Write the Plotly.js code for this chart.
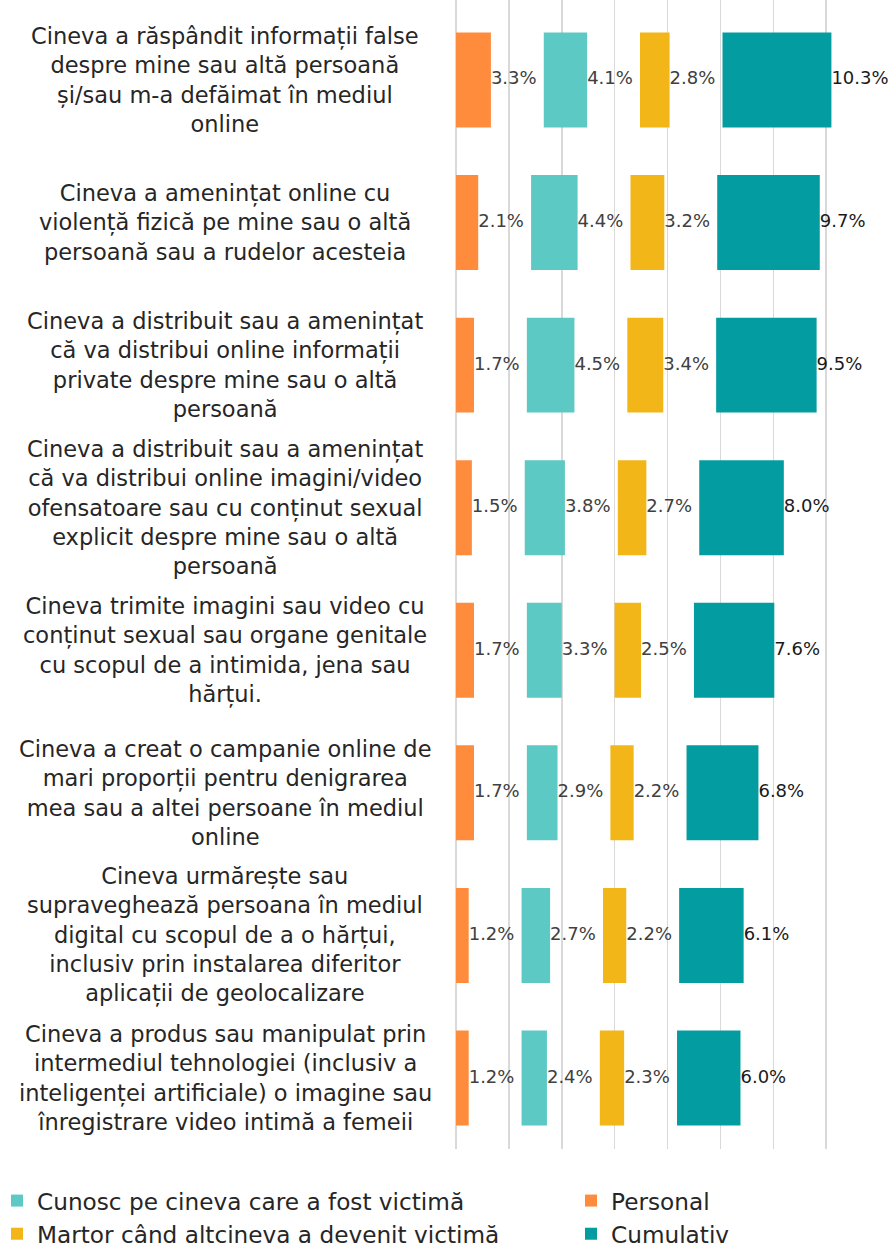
<!DOCTYPE html>
<html>
<head>
<meta charset="utf-8">
<script src="https://cdn.plot.ly/plotly-3.0.1.min.js"></script>
<style>html,body{margin:0;padding:0;background:#fff;}#chart{width:893px;height:1253px;}</style>
</head>
<body>
<div id="chart"></div>
<script>
const categories = [
  "Cineva a răspândit informații false<br>despre mine sau altă persoană<br>și/sau m-a defăimat în mediul<br>online",
  "Cineva a amenințat online cu<br>violență fizică pe mine sau o altă<br>persoană sau a rudelor acesteia",
  "Cineva a distribuit sau a amenințat<br>că va distribui online informații<br>private despre mine sau o altă<br>persoană",
  "Cineva a distribuit sau a amenințat<br>că va distribui online imagini/video<br>ofensatoare sau cu conținut sexual<br>explicit despre mine sau o altă<br>persoană",
  "Cineva trimite imagini sau video cu<br>conținut sexual sau organe genitale<br>cu scopul de a intimida, jena sau<br>hărțui.",
  "Cineva a creat o campanie online de<br>mari proporții pentru denigrarea<br>mea sau a altei persoane în mediul<br>online",
  "Cineva urmărește sau<br>supraveghează persoana în mediul<br>digital cu scopul de a o hărțui,<br>inclusiv prin instalarea diferitor<br>aplicații de geolocalizare",
  "Cineva a produs sau manipulat prin<br>intermediul tehnologiei (inclusiv a<br>inteligenței artificiale) o imagine sau<br>înregistrare video intimă a femeii"
];
const personal  = [3.3, 2.1, 1.7, 1.5, 1.7, 1.7, 1.2, 1.2];
const cunosc    = [4.1, 4.4, 4.5, 3.8, 3.3, 2.9, 2.7, 2.4];
const martor    = [2.8, 3.2, 3.4, 2.7, 2.5, 2.2, 2.2, 2.3];
const cumulativ = [10.3, 9.7, 9.5, 8.0, 7.6, 6.8, 6.1, 6.0];
const seriesNames = ["Personal", "Cunosc pe cineva care a fost victimă", "Martor când altcineva a devenit victimă", "Cumulativ"];
const GAP = 5; // spacing between groups, in axis units (%)

const FONT = "DejaVu Sans, Noto Sans, sans-serif";
const colors = {personal:"#FF8B3D", cunosc:"#5DC9C4", martor:"#F3B619", cumulativ:"#039DA1"};

const basePersonal = personal.map(() => 0);
const baseCunosc = personal.map((v) => v + GAP);
const baseMartor = cunosc.map((v, i) => baseCunosc[i] + v + GAP);
const baseCumul = martor.map((v, i) => baseMartor[i] + v + GAP);

function barTrace(name, vals, base, color, legendId, group) {
  return {type:"bar", orientation:"h", name:name, x:vals, base:base, y:categories,
    marker:{color:color, line:{width:0}}, legend:legendId, legendgroup:group, hoverinfo:"skip"};
}
function labelTrace(vals, base, color) {
  return {type:"scatter", mode:"text", x:vals.map((v,i)=>base[i]+v), y:categories,
    text:vals.map(v=>v.toFixed(1)+"%"), textposition:"middle right",
    textfont:{family:FONT, size:18, color:color}, showlegend:false, cliponaxis:false, hoverinfo:"skip"};
}

const data = [
  barTrace(seriesNames[1], cunosc, baseCunosc, colors.cunosc, "legend", "g1"),
  barTrace(seriesNames[2], martor, baseMartor, colors.martor, "legend", "g2"),
  barTrace(seriesNames[0], personal, basePersonal, colors.personal, "legend2", "g3"),
  barTrace(seriesNames[3], cumulativ, baseCumul, colors.cumulativ, "legend2", "g4"),
  labelTrace(personal, basePersonal, "#404040"),
  labelTrace(cunosc, baseCunosc, "#404040"),
  labelTrace(martor, baseMartor, "#404040"),
  labelTrace(cumulativ, baseCumul, "#1a1a1a")
];

const annotations = categories.map(c => ({
  xref:"paper", yref:"y", x:-0.546, y:c, xanchor:"center", yanchor:"middle",
  text:c, showarrow:false, align:"center",
  font:{family:FONT, size:22.5, color:"#262626"}
}));

const legendCommon = {orientation:"v", xanchor:"left", yanchor:"top", y:-0.0261,
  font:{family:FONT, size:23.2, color:"#262626"}, traceorder:"grouped", tracegroupgap:0,
  itemwidth:30, bgcolor:"rgba(0,0,0,0)", borderwidth:0};

const layout = {
  width:893, height:1253,
  margin:{l:456, r:14, t:0, b:104, pad:0, autoexpand:false},
  paper_bgcolor:"#fff", plot_bgcolor:"#fff",
  barmode:"overlay", bargap:0.334,
  font:{family:FONT, color:"#262626"},
  xaxis:{range:[0,40], dtick:5, showticklabels:false, showgrid:true, gridcolor:"#d9d9d9", gridwidth:1.5,
    zeroline:true, zerolinecolor:"#d9d9d9", zerolinewidth:1.5, showline:false, fixedrange:true},
  yaxis:{type:"category", range:[7.498, -0.561], showticklabels:false, showgrid:false, zeroline:false, showline:false, ticks:""},
  showlegend:true,
  legend:Object.assign({}, legendCommon, {x:(-3 - 456)/423}),
  legend2:Object.assign({}, legendCommon, {x:(571 - 456)/423}),
  annotations:annotations
};

Plotly.newPlot("chart", data, layout, {displayModeBar:false, staticPlot:true});
</script>
</body>
</html>
